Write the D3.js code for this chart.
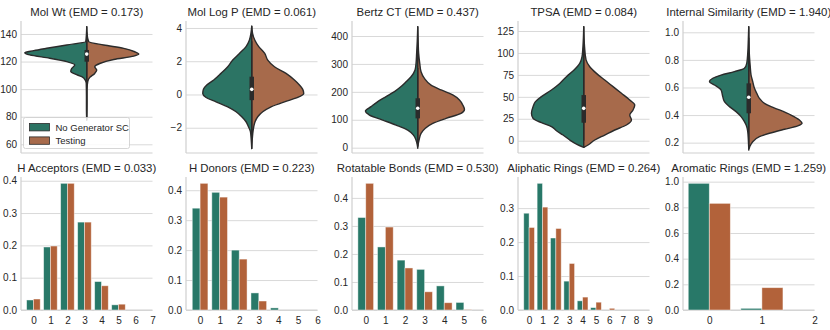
<!DOCTYPE html>
<html>
<head>
<meta charset="utf-8">
<script src="https://cdn.jsdelivr.net/npm/d3@7"></script>
<style>
  body { margin: 0; background: #fff; }
  svg text { font-family: "Liberation Sans", Arial, sans-serif; fill: #262626; }
</style>
</head>
<body>
<div id="chart"></div>
<script>
// ---- data ----
const seriesNames = ["No Generator SC", "Testing"];

// violin halves: [value, density] (density in arbitrary width units)
const molWtGen = [[145.3,0],[140,0.3],[134.4,1],[132.0,20],[129.6,40],[127.9,53],[126.4,62],[124.8,57],[122.4,37],[119.9,20],[117.5,12],[115.1,15],[112.7,16],[111.0,12],[109.0,5],[106.6,1.5],[104.2,0.5],[95,0.3],[85,0.3],[77.6,0]];
const molWtTest = [[145.3,0],[140,0.3],[134.4,2],[132.0,17],[129.6,37],[127.1,48],[125.4,52],[123.9,47],[121.5,27],[118.6,13],[116.2,8],[113.8,10],[111.4,8],[108.5,3],[105.4,1],[100,0.3],[90,0.3],[77.6,0]];
const molWtBox = [107, 119.9, 125.4, 128.4, 141];

const logPGen = [[4.1,0],[3.68,0.8],[3.28,2.3],[2.88,5.7],[2.47,12.3],[2.07,19],[1.67,24],[1.27,30.7],[0.87,38],[0.57,45],[0.31,48.3],[0.06,49],[-0.18,45.7],[-0.44,35.7],[-0.74,24],[-1.04,15.7],[-1.34,10],[-1.64,5.7],[-1.94,3.3],[-2.24,1.3],[-2.75,0.5],[-3.25,0]];
const logPTest = [[4.1,0],[3.68,0.8],[3.28,3],[2.88,7],[2.47,13],[2.07,16],[1.67,22.7],[1.27,34.3],[0.87,42.7],[0.57,47.7],[0.31,51],[0.06,52],[-0.18,46],[-0.44,32.7],[-0.74,19.3],[-1.04,11],[-1.34,6],[-1.64,3.3],[-1.94,2],[-2.35,1],[-2.8,0.4],[-3.25,0]];
const logPBox = [-2.4, -0.34, 0.31, 1.07, 3.2];

const bertzGen = [[433,0],[380,0.5],[338,1.1],[302,1.7],[278,2.7],[254,6.7],[236,11.7],[219,16.7],[201,23.3],[183,31.7],[165,40],[147,46.7],[131,52.3],[117,48.3],[99,35],[81,21.7],[63,10],[45,4.3],[27,1.7],[10,0.5],[-2,0]];
const bertzTest = [[433,0],[380,0.4],[338,0.9],[302,2],[272,3.3],[248,6.7],[224,13.3],[207,23.3],[189,35],[171,41.7],[153,45],[137,46.7],[123,43.3],[105,28.3],[87,15],[69,7.3],[51,3.3],[27,1.3],[4,0]];
const bertzBox = [5, 105, 141, 177, 285];

const tpsaGen = [[130,0],[107,0.8],[95.7,1.7],[88,4],[80.5,9.7],[73,17.3],[65.3,24],[57.8,32.3],[50.2,42.3],[44.5,48.3],[38.8,50.7],[31.2,52.3],[25.5,50.7],[20.5,42.3],[16,32.3],[11.4,27.3],[6.5,20.7],[0.8,14],[-3.8,7.3],[-7.6,0]];
const tpsaTest = [[130,0],[107,0.8],[92,2.3],[84.3,6],[76.7,12.7],[69.1,21],[61.6,29.3],[54,37.7],[46.4,46],[40.7,51],[35,49.3],[29.3,46],[23.6,47.7],[17.9,42.7],[12.2,31],[6.5,21],[0.8,11],[-4.9,4.3],[-7.6,0]];
const tpsaBox = [0, 20.5, 36.9, 52, 99];

const simGen = [[1.04,0],[0.95,0.4],[0.848,1],[0.775,2],[0.739,4.3],[0.715,14.3],[0.69,27.7],[0.667,36],[0.642,39.3],[0.618,34.3],[0.582,27.7],[0.534,26],[0.497,24.3],[0.461,19.3],[0.425,12.7],[0.389,7.7],[0.352,4.3],[0.316,2],[0.28,1],[0.22,0.4],[0.159,0]];
const simTest = [[1.04,0],[0.872,0.4],[0.751,1.5],[0.69,2.3],[0.642,4],[0.594,5.7],[0.558,8],[0.521,10.7],[0.485,15.7],[0.461,22.3],[0.437,30.7],[0.4,42.3],[0.364,50.7],[0.34,53.3],[0.321,49],[0.297,35.7],[0.268,20.7],[0.243,10.7],[0.207,4],[0.171,1],[0.147,0]];
const simBox = [0.16, 0.413, 0.529, 0.63, 0.96];

// bar panels: fraction per count
const hAccCats = [0,1,2,3,4,5,6,7];
const hAccGen  = [0.031,0.195,0.392,0.272,0.088,0.016,0,0];
const hAccTest = [0.034,0.198,0.392,0.272,0.075,0.018,0,0];

const hDonCats = [0,1,2,3,4,5,6];
const hDonGen  = [0.340,0.393,0.200,0.057,0.007,0,0];
const hDonTest = [0.423,0.377,0.170,0.030,0,0,0];

const rotCats = [0,1,2,3,4,5,6];
const rotGen  = [0.330,0.225,0.178,0.145,0.086,0.027,0];
const rotTest = [0.452,0.296,0.150,0.065,0.026,0.001,0];

const aliCats = [0,1,2,3,4,5,6,7,8,9];
const aliGen  = [0.285,0.373,0.212,0.085,0.027,0.007,0,0,0,0];
const aliTest = [0.243,0.303,0.240,0.137,0.038,0.023,0.005,0,0,0];

const aroCats = [0,1,2];
const aroGen  = [0.987,0.013,0];
const aroTest = [0.831,0.174,0];

// tick labels
const molWtTicks = [60,80,100,120,140];
const logPTicks = [-2,0,2,4];
const bertzTicks = [0,100,200,300,400];
const tpsaTicks = [0,25,50,75,100,125];
const simTicks = [0.2,0.4,0.6,0.8,1.0];
const fracTicks = [0,0.1,0.2,0.3,0.4];
const aliTicks = [0,0.1,0.2,0.3];
const aroTicks = [0,0.2,0.4,0.6,0.8,1.0];

// ---- layout ----
const W = 830, H = 330;
const colLeft = [21, 186, 352, 518, 683];
const plotW = 131.5;
const topRow = [21, 153];
const botRow = [177, 310];
const genBar = "#287868", testBar = "#b2623a";
const genViolin = "#2c7464", testViolin = "#a76a4b";
const ink = "#2b2b2b";
const gridColor = "#d9d9d9";

const svg = d3.select("#chart").append("svg")
    .attr("width", W)
    .attr("height", H);

function frame(g, y, ticks, fmt, h) {
    g.append("g")
        .call(d3.axisLeft(y).tickValues(ticks).tickSize(-plotW).tickPadding(4).tickFormat(fmt))
        .call(a => a.select(".domain").remove())
        .call(a => a.selectAll("line").attr("stroke", gridColor).attr("stroke-width", 1))
        .call(a => a.selectAll("text").style("font-size", "10px").attr("font-family", null));
    g.append("line").attr("x1", 0).attr("x2", 0).attr("y1", 0).attr("y2", h)
        .attr("stroke", "#cfcfcf").attr("stroke-width", 1.2);
    g.append("line").attr("x1", 0).attr("x2", plotW).attr("y1", h).attr("y2", h)
        .attr("stroke", "#cfcfcf").attr("stroke-width", 1.2);
}

function title(g, text) {
    g.append("text")
        .attr("x", plotW / 2)
        .attr("y", -5.5)
        .attr("text-anchor", "middle")
        .style("font-size", "11.4px")
        .text(text);
}

function violinPanel(col, label, gen, test, box, domain, ticks, fmt) {
    const h = topRow[1] - topRow[0];
    const g = svg.append("g").attr("transform", `translate(${colLeft[col]},${topRow[0]})`);
    const y = d3.scaleLinear().domain(domain).range([h, 0]);
    const x = d3.scaleLinear().domain([-65.75, 65.75]).range([0, plotW]);
    frame(g, y, ticks, fmt, h);

    const half = sign => d3.area()
        .curve(d3.curveMonotoneY)
        .y(d => y(d[0]))
        .x0(x(0))
        .x1(d => x(sign * d[1]));

    g.append("path").datum(gen).attr("d", half(-1))
        .attr("fill", genViolin).attr("stroke", ink).attr("stroke-width", 1.4)
        .attr("stroke-linejoin", "round");
    g.append("path").datum(test).attr("d", half(1))
        .attr("fill", testViolin).attr("stroke", ink).attr("stroke-width", 1.4)
        .attr("stroke-linejoin", "round");

    // inner box
    g.append("line").attr("x1", x(0)).attr("x2", x(0))
        .attr("y1", y(box[0])).attr("y2", y(box[4]))
        .attr("stroke", ink).attr("stroke-width", 1.4);
    g.append("line").attr("x1", x(0)).attr("x2", x(0))
        .attr("y1", y(box[1])).attr("y2", y(box[3]))
        .attr("stroke", ink).attr("stroke-width", 4.5);
    g.append("circle").attr("cx", x(0)).attr("cy", y(box[2])).attr("r", 1.8)
        .attr("fill", "#fff");

    title(g, label);
    return g;
}

function barPanel(col, label, cats, gen, test, xLow, ticks) {
    const h = botRow[1] - botRow[0];
    const g = svg.append("g").attr("transform", `translate(${colLeft[col]},${botRow[0]})`);
    const y = d3.scaleLinear().domain([0, d3.max(gen.concat(test)) * 1.05]).range([h, 0]);
    const x = d3.scaleLinear().domain([xLow, d3.max(cats)]).range([0, plotW]);
    frame(g, y, ticks, d3.format(".1f"), h);

    const series = [
        {vals: gen, off: -0.4, color: genBar},
        {vals: test, off: 0, color: testBar}
    ];
    series.forEach(s => {
        g.append("g").selectAll("rect")
            .data(cats.map((c, i) => ({c: c, v: s.vals[i]})).filter(d => d.v > 0))
            .enter()
            .append("rect")
            .attr("x", d => x(d.c + s.off))
            .attr("width", d => x(d.c + s.off + 0.4) - x(d.c + s.off))
            .attr("y", d => y(d.v))
            .attr("height", d => y(0) - y(d.v))
            .attr("fill", s.color)
            .attr("stroke", "#fff")
            .attr("stroke-opacity", 0.55)
            .attr("stroke-width", 0.8);
    });

    g.append("g")
        .attr("transform", `translate(0,${h})`)
        .call(d3.axisBottom(x).tickValues(cats).tickSize(0).tickPadding(6.5).tickFormat(d3.format("d")))
        .call(a => a.select(".domain").remove())
        .call(a => a.selectAll("text").style("font-size", "10px").attr("font-family", null));

    title(g, label);
}

// ---- top row: violins ----
const g0 = violinPanel(0, "Mol Wt (EMD = 0.173)", molWtGen, molWtTest, molWtBox, [53.7, 149.4], molWtTicks, d3.format("d"));
violinPanel(1, "Mol Log P (EMD = 0.061)", logPGen, logPTest, logPBox, [-3.52, 4.42], logPTicks, d3.format("d"));
violinPanel(2, "Bertz CT (EMD = 0.437)", bertzGen, bertzTest, bertzBox, [-19, 453.7], bertzTicks, d3.format("d"));
violinPanel(3, "TPSA (EMD = 0.084)", tpsaGen, tpsaTest, tpsaBox, [-14, 136.4], tpsaTicks, d3.format("d"));
violinPanel(4, "Internal Similarity (EMD = 1.940)", simGen, simTest, simBox, [0.125, 1.082], simTicks, d3.format(".1f"));

// legend
const legend = g0.append("g").attr("transform", "translate(2.5,96.5)");
legend.append("rect")
    .attr("width", 106).attr("height", 31).attr("rx", 2)
    .attr("fill", "#fff").attr("fill-opacity", 0.85)
    .attr("stroke", "#cccccc").attr("stroke-width", 0.8);
[genViolin, testViolin].forEach((c, i) => {
    const row = legend.append("g").attr("transform", `translate(6,${6 + i * 13.4})`);
    row.append("rect").attr("width", 20).attr("height", 7.4)
        .attr("fill", c).attr("stroke", ink).attr("stroke-width", 0.8);
    row.append("text").attr("x", 26).attr("y", 7.2)
        .style("font-size", "9.5px").text(seriesNames[i]);
});

// ---- bottom row: bars ----
barPanel(0, "H Acceptors (EMD = 0.033)", hAccCats, hAccGen, hAccTest, -0.73, fracTicks);
barPanel(1, "H Donors (EMD = 0.223)", hDonCats, hDonGen, hDonTest, -0.72, fracTicks);
barPanel(2, "Rotatable Bonds (EMD = 0.530)", rotCats, rotGen, rotTest, -0.7, fracTicks);
barPanel(3, "Aliphatic Rings (EMD = 0.264)", aliCats, aliGen, aliTest, -0.83, aliTicks);
barPanel(4, "Aromatic Rings (EMD = 1.259)", aroCats, aroGen, aroTest, -0.5, aroTicks);
</script>
</body>
</html>
